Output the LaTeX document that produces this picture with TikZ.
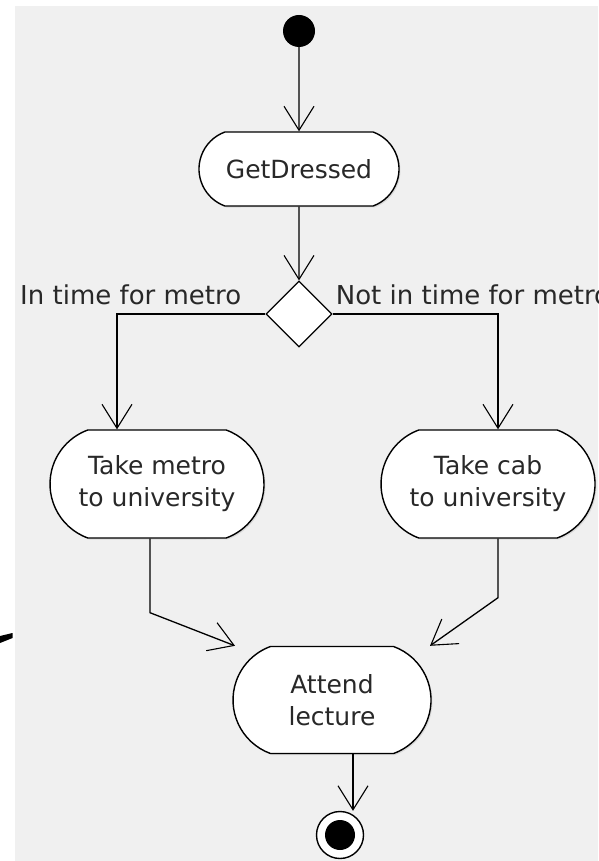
\documentclass[tikz,border=0pt]{standalone}
\usepackage{fontspec}
\setmainfont{DejaVu Sans}
\usetikzlibrary{positioning,calc,arrows.meta,shapes.geometric,shapes.misc,shadows}
\definecolor{panelgray}{RGB}{240,240,240}
\definecolor{inkgray}{RGB}{40,40,40}

\begin{document}
\begin{tikzpicture}[
    x=1pt, y=-1pt,
    action/.style={rounded rectangle, rounded rectangle arc length=140, draw, fill=white, line width=1.4pt, align=center, inner sep=0pt, font=\fontsize{25}{32}\selectfont, text=inkgray, drop shadow={shadow xshift=1.5pt, shadow yshift=-1.5pt, opacity=0.2}},
    decision/.style={diamond, draw, fill=white, line width=1.2pt, minimum width=66pt, minimum height=66pt, inner sep=0pt},
    flow/.style={draw, line width=1.3pt, -{Straight Barb[length=24pt, width=30pt, line width=1.1pt]}},
    guard/.style={inner sep=0pt, font=\fontsize{26}{32}\selectfont, text=inkgray}
]
\useasboundingbox (0,0) rectangle (598,861);
\clip (0,0) rectangle (598,861);

% Canvas
\fill[white] (0,0) rectangle (598,861);
\fill[panelgray] (15,6) rectangle (598,861);
\fill (0,636) -- (12.5,633) -- (12.5,638) -- (0,643) -- cycle;

% Define node positions
\node[circle, fill=black, minimum size=32pt, inner sep=0pt] (start) at (299,31) {};
\node[action, minimum width=200pt, minimum height=74pt] (get) at (299,169) {GetDressed};
\node[decision] (choice) at (299,314) {};
\node[action, minimum width=214pt, minimum height=108pt] (metro) at (157,484) {Take metro\\to university};
\node[action, minimum width=214pt, minimum height=108pt] (cab) at (488,484) {Take cab\\to university};
\node[action, minimum width=198pt, minimum height=107pt] (attend) at (332,700) {Attend\\lecture};
\node[circle, draw, fill=white, line width=1.4pt, minimum size=47pt, inner sep=0pt] (stop) at (340,835) {};
\node[circle, fill=black, minimum size=30pt, inner sep=0pt] (stopdot) at (stop) {};

% Guards on the decision
\node[guard, above left=9pt and 24pt of choice.west] (inguard) {In time for metro};
\node[guard, above right=9pt and 3pt of choice.east] (lateguard) {Not in time for metro};

% Control flow
\draw[flow] (start) -- (get);
\draw[flow] (get) -- (choice);
\draw[flow] (choice.west) -| ([xshift=-40pt]metro.north);
\draw[flow] (choice.east) -| ([xshift=10pt]cab.north);
\draw[flow] ([xshift=-7pt]metro.south) -- ++(0,74) -- ([xshift=-97pt]attend.north);
\draw[flow] ([xshift=10pt]cab.south) -- ++(0,59) -- ([xshift=98pt]attend.north);
\draw[flow] ([xshift=21pt]attend.south) -- ([xshift=21pt]attend.south |- stop.north);

\end{tikzpicture}
\end{document}
